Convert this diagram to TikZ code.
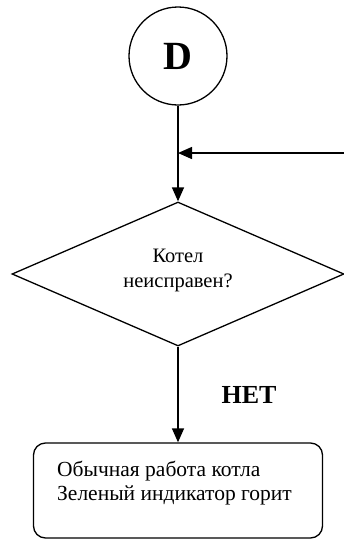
\documentclass[tikz,border=0pt]{standalone}
\usepackage{fontspec}
\setmainfont{Liberation Serif}
\usetikzlibrary{shapes.geometric,arrows.meta}
\begin{document}
\begin{tikzpicture}[x=1pt,y=-1pt,
  line/.style={line width=1.4pt},
  arr/.style={line, -{Triangle[length=14pt,width=12pt]}},
  body/.style={font=\fontsize{20.5}{24.5}\selectfont},
  boxtext/.style={font=\fontsize{21.5}{24}\selectfont}]
\useasboundingbox (0,0) rectangle (344,539);
\node[circle, draw, line width=1.3pt, minimum size=98pt, inner sep=0pt,
      font=\fontsize{40}{40}\selectfont\bfseries] (D) at (178,56) {D};
\node[diamond, draw, line width=1.3pt, inner sep=0pt, aspect=2.3125,
      minimum width=332pt, minimum height=144pt] (Q) at (178,274) {};
\node[body, align=center, inner sep=0pt, anchor=base] (qt) at (178,287)
  {Котел\\неисправен?};
\node[draw, line width=1.3pt, rounded corners=12pt, minimum width=289pt,
      minimum height=95pt, inner sep=0pt] (B) at (178,490.5) {};
\node[boxtext, align=left, inner sep=0pt, anchor=base west] (bt) at (57,500)
  {Обычная работа котла\\Зеленый индикатор горит};
\node[font=\fontsize{26}{26}\selectfont\bfseries, inner sep=0pt, anchor=base] (no) at (249,403) {НЕТ};
\coordinate (ext) at (344,153);
\coordinate (join) at (178,153);
\draw[arr] (D.south) -- (Q.north);
\draw[arr] (ext) -- (join);
\draw[arr] (Q.south) -- (B.north);
\end{tikzpicture}
\end{document}
